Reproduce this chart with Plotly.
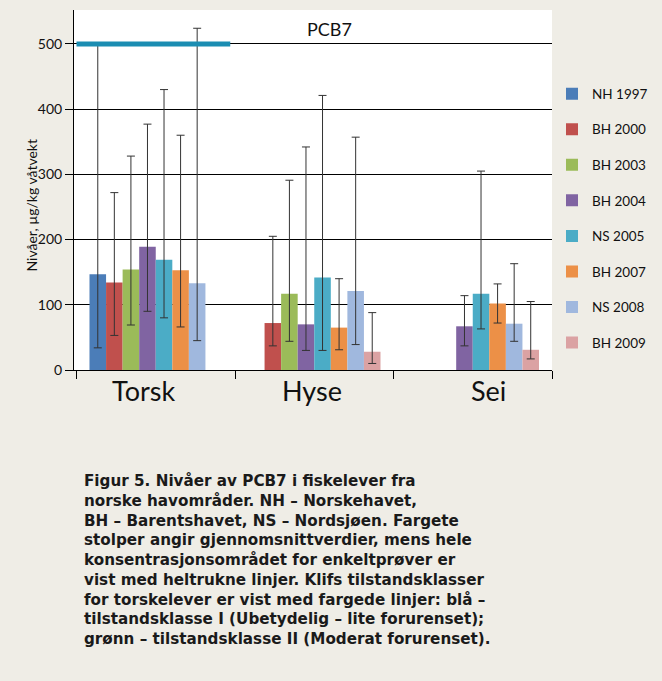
import plotly.graph_objects as go

categories = ["Torsk", "Hyse", "Sei"]
series_names = ["NH 1997", "BH 2000", "BH 2003", "BH 2004", "NS 2005", "BH 2007", "NS 2008", "BH 2009"]
colors = ["#4b7db8", "#c0504d", "#9bbb59", "#8064a2", "#4bacc6", "#ec9047", "#a0b8de", "#dba2a3"]

# mean values per series (Torsk, Hyse, Sei)
nh1997_mean = [147, None, None]
bh2000_mean = [134, 72, None]
bh2003_mean = [154, 117, None]
bh2004_mean = [189, 70, 67]
ns2005_mean = [169, 142, 117]
bh2007_mean = [153, 65, 102]
ns2008_mean = [133, 121, 71]
bh2009_mean = [None, 28, 31]

# min values
nh1997_min = [34, None, None]
bh2000_min = [53, 37, None]
bh2003_min = [69, 44, None]
bh2004_min = [90, 30, 37]
ns2005_min = [80, 30, 63]
bh2007_min = [66, 31, 72]
ns2008_min = [45, 39, 44]
bh2009_min = [None, 10, 17]

# max values
nh1997_max = [502, None, None]
bh2000_max = [272, 205, None]
bh2003_max = [328, 291, None]
bh2004_max = [377, 342, 114]
ns2005_max = [430, 421, 305]
bh2007_max = [360, 140, 132]
ns2008_max = [524, 357, 163]
bh2009_max = [None, 88, 105]

means = [nh1997_mean, bh2000_mean, bh2003_mean, bh2004_mean, ns2005_mean, bh2007_mean, ns2008_mean, bh2009_mean]
mins = [nh1997_min, bh2000_min, bh2003_min, bh2004_min, ns2005_min, bh2007_min, ns2008_min, bh2009_min]
maxs = [nh1997_max, bh2000_max, bh2003_max, bh2004_max, ns2005_max, bh2007_max, ns2008_max, bh2009_max]

class_I_limit = 500  # Klif tilstandsklasse I (torsk)
y_ticks = [0, 100, 200, 300, 400, 500]

caption_lines = [
    "Figur 5. Nivåer av PCB7 i fiskelever fra",
    "norske havområder. NH – Norskehavet,",
    "BH – Barentshavet, NS – Nordsjøen. Fargete",
    "stolper angir gjennomsnittverdier, mens hele",
    "konsentrasjonsområdet for enkeltprøver er",
    "vist med heltrukne linjer. Klifs tilstandsklasser",
    "for torskelever er vist med fargede linjer: blå –",
    "tilstandsklasse I (Ubetydelig – lite forurenset);",
    "grønn – tilstandsklasse II (Moderat forurenset).",
]

FONT = "Lato"
BG = "#efede6"
PLOT_TOP, PLOT_H = 10, 360

fig = go.Figure()
for name, col, m, lo, hi in zip(series_names, colors, means, mins, maxs):
    plus = [(h - v) if v is not None else None for v, h in zip(m, hi)]
    minus = [(v - l) if v is not None else None for v, l in zip(m, lo)]
    fig.add_trace(go.Bar(
        x=categories, y=m, name=name, marker_color=col, marker_line_width=0,
        legendgroup=name,
        error_y=dict(type="data", symmetric=False, array=plus, arrayminus=minus,
                     color="#333333", thickness=1, width=4),
    ))

fig.add_shape(type="line", xref="x", yref="y", x0=-0.5, x1=0.47,
              y0=class_I_limit, y1=class_I_limit,
              line=dict(color="#1b8db2", width=5), layer="above")

fig.add_annotation(text="PCB7", xref="paper", yref="paper", x=0.535, y=1.0,
                   yanchor="top", yshift=-6, showarrow=False,
                   font=dict(family=FONT, size=18, color="#111111"))

# y-axis title (placed like in the original figure)
fig.add_annotation(text="Nivåer, µg/kg våtvekt", xref="paper", yref="paper",
                   x=0, y=0.5, xshift=-54, yshift=-15, textangle=-90,
                   showarrow=False, font=dict(family=FONT, size=14, color="#111111"))

# category labels (placed like in the original figure)
label_shifts = [-12, -2, 16]
for cat, dx in zip(categories, label_shifts):
    fig.add_annotation(text=cat, xref="x", yref="paper", x=cat, y=0, xshift=dx,
                       yanchor="middle", yshift=-20, showarrow=False,
                       font=dict(family=FONT, size=27, color="#111111"))

fig.add_annotation(text="<b>" + "<br>".join(caption_lines) + "</b>",
                   xref="paper", yref="paper",
                   x=0.0167, y=(PLOT_TOP + PLOT_H - 470) / PLOT_H,
                   xanchor="left", yanchor="top", align="left", showarrow=False,
                   font=dict(family="DejaVu Sans", size=15.2, color="#1a1a1a"))

fig.update_layout(
    width=662, height=681,
    margin=dict(l=74, r=110, t=PLOT_TOP, b=681 - PLOT_TOP - PLOT_H, autoexpand=False),
    paper_bgcolor=BG, plot_bgcolor="white",
    barmode="group", bargap=0.164, bargroupgap=0,
    font=dict(family=FONT, color="#111111"),
    legend=dict(x=1.0, y=0.81, xanchor="left", yanchor="top",
                bgcolor="rgba(0,0,0,0)", font=dict(size=13.5, family=FONT),
                tracegroupgap=15, itemwidth=30),
    showlegend=True,
)
fig.update_xaxes(showline=True, linecolor="black", linewidth=1,
                 ticks="outside", tickson="boundaries", ticklen=8, tickcolor="black",
                 showticklabels=False, showgrid=False)
fig.update_yaxes(range=[0, 552], tickvals=y_ticks, showline=True, linecolor="black",
                 linewidth=1, ticks="outside", ticklen=8, tickcolor="black",
                 gridcolor="black", gridwidth=1, zeroline=False,
                 tickfont=dict(size=14, family=FONT))

fig.write_html("out.html", config={"displayModeBar": False},
               post_script="document.body.style.margin='0';document.body.style.background='%s';" % BG)
